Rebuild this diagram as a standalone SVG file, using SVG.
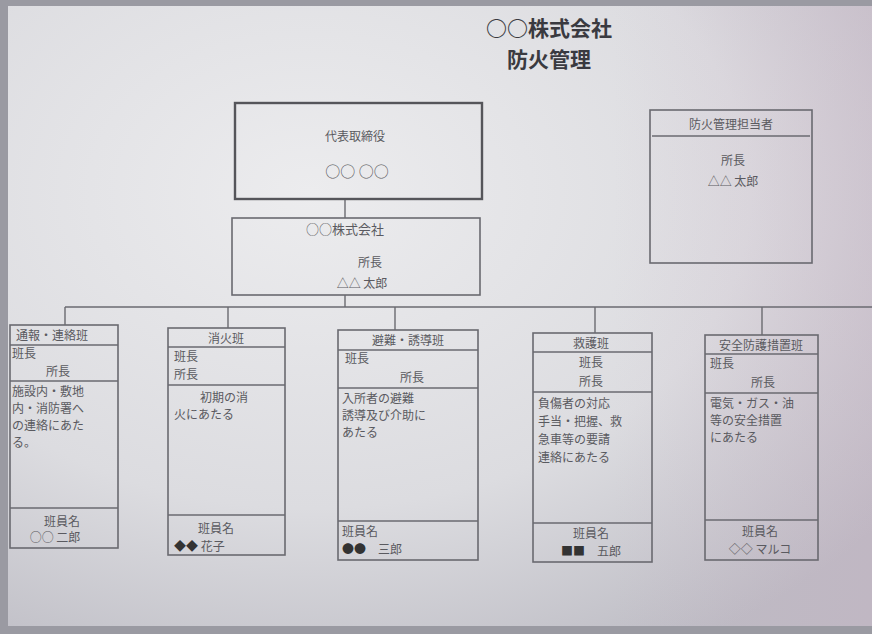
<svg xmlns="http://www.w3.org/2000/svg" width="872" height="634" viewBox="0 0 872 634">
<defs>
<radialGradient id="bg" cx="0.35" cy="0.3" r="0.85">
<stop offset="0" stop-color="#ececee"/>
<stop offset="0.6" stop-color="#dcdce0"/>
<stop offset="1" stop-color="#bdbcc4"/>
</radialGradient>
<linearGradient id="tint" x1="0" y1="0" x2="1" y2="0">
<stop offset="0.7" stop-color="#c9a8c0" stop-opacity="0"/>
<stop offset="1" stop-color="#c9a8c0" stop-opacity="0.25"/>
</linearGradient>
<style>
.box{fill:none;stroke:#6a6a70;stroke-width:1.6}
.top{fill:none;stroke:#55555a;stroke-width:2.4}
.ln{stroke:#6a6a70;stroke-width:1.4;fill:none}
text{font-family:"Noto Sans CJK JP","Noto Sans",sans-serif;fill:#5a5a60;font-size:12px}
.c{text-anchor:middle}
.title{font-size:21px;font-weight:bold;fill:#3a3a40}
.dark{fill:#333}
</style>
</defs>
<rect x="0" y="0" width="872" height="634" fill="#9a9aa2"/>
<rect x="8" y="6" width="864" height="620" fill="url(#bg)"/>
<rect x="8" y="6" width="864" height="620" fill="url(#tint)"/>
<g id="title">
<text class="title c" x="549" y="36">○○株式会社</text>
<text class="title c" x="549" y="67">防火管理</text>
</g>
<g id="connectors">
<line class="ln" x1="345" y1="199" x2="345" y2="218"/>
<line class="ln" x1="345" y1="295" x2="345" y2="307"/>
<line class="ln" x1="65" y1="307" x2="872" y2="307"/>
<line class="ln" x1="65" y1="307" x2="65" y2="325"/>
<line class="ln" x1="228" y1="307" x2="228" y2="328"/>
<line class="ln" x1="395" y1="307" x2="395" y2="330"/>
<line class="ln" x1="595" y1="307" x2="595" y2="333"/>
<line class="ln" x1="762" y1="307" x2="762" y2="335"/>
</g>
<g id="president">
<rect class="top" x="235" y="103" width="247" height="96" fill="#e4e4e8"/>
<text class="c" x="355" y="141">代表取締役</text>
<text class="c" x="357" y="177" style="font-size:15px">○○ ○○</text>
</g>
<g id="company">
<rect class="box" x="232" y="218" width="248" height="77"/>
<text class="c" x="345" y="234" style="font-size:13px">○○株式会社</text>
<text class="c" x="370" y="267">所長</text>
<text class="c" x="362" y="288">△△ 太郎</text>
</g>
<g id="fire-manager">
<rect class="box" x="650" y="110" width="162" height="153"/>
<line class="ln" x1="652" y1="136" x2="810" y2="136"/>
<text class="c" x="731" y="129">防火管理担当者</text>
<text class="c" x="733" y="165">所長</text>
<text class="c" x="733" y="186">△△ 太郎</text>
</g>
<g id="team1">
<rect class="box" x="10" y="325" width="108" height="223"/>
<line class="ln" x1="10" y1="345" x2="118" y2="345"/>
<line class="ln" x1="10" y1="381" x2="118" y2="381"/>
<line class="ln" x1="10" y1="508" x2="118" y2="508"/>
<text x="16" y="340">通報・連絡班</text>
<text x="12" y="358">班長</text>
<text class="c" x="58" y="376">所長</text>
<text x="12" y="396">施設内・敷地</text>
<text x="12" y="413">内・消防署へ</text>
<text x="12" y="430">の連絡にあた</text>
<text x="12" y="447">る。</text>
<text class="c" x="62" y="526">班員名</text>
<text class="c" x="55" y="542">○○ 二郎</text>
</g>
<g id="team2">
<rect class="box" x="168" y="328" width="117" height="227"/>
<line class="ln" x1="168" y1="347" x2="285" y2="347"/>
<line class="ln" x1="168" y1="385" x2="285" y2="385"/>
<line class="ln" x1="168" y1="515" x2="285" y2="515"/>
<text class="c" x="226" y="343">消火班</text>
<text x="174" y="361">班長</text>
<text x="174" y="379">所長</text>
<text x="200" y="402">初期の消</text>
<text x="174" y="419">火にあたる</text>
<text class="c" x="216" y="533">班員名</text>
<text x="174" y="551"><tspan class="dark">◆◆</tspan> 花子</text>
</g>
<g id="team3">
<rect class="box" x="338" y="330" width="140" height="230"/>
<line class="ln" x1="338" y1="350" x2="478" y2="350"/>
<line class="ln" x1="338" y1="388" x2="478" y2="388"/>
<line class="ln" x1="338" y1="521" x2="478" y2="521"/>
<text class="c" x="408" y="345">避難・誘導班</text>
<text x="345" y="363">班長</text>
<text class="c" x="412" y="382">所長</text>
<text x="342" y="403">入所者の避難</text>
<text x="342" y="420">誘導及び介助に</text>
<text x="342" y="437">あたる</text>
<text x="342" y="536">班員名</text>
<text x="342" y="554"><tspan class="dark">●●</tspan>　三郎</text>
</g>
<g id="team4">
<rect class="box" x="533" y="333" width="119" height="229"/>
<line class="ln" x1="533" y1="352" x2="652" y2="352"/>
<line class="ln" x1="533" y1="392" x2="652" y2="392"/>
<line class="ln" x1="533" y1="523" x2="652" y2="523"/>
<text class="c" x="591" y="348">救護班</text>
<text class="c" x="591" y="367">班長</text>
<text class="c" x="591" y="386">所長</text>
<text x="538" y="408">負傷者の対応</text>
<text x="538" y="426">手当・把握、救</text>
<text x="538" y="444">急車等の要請</text>
<text x="538" y="462">連絡にあたる</text>
<text class="c" x="591" y="538">班員名</text>
<text class="c" x="591" y="556"><tspan class="dark">■■</tspan>　五郎</text>
</g>
<g id="team5">
<rect class="box" x="705" y="335" width="113" height="225"/>
<line class="ln" x1="705" y1="354" x2="818" y2="354"/>
<line class="ln" x1="705" y1="393" x2="818" y2="393"/>
<line class="ln" x1="705" y1="520" x2="818" y2="520"/>
<text class="c" x="761" y="350">安全防護措置班</text>
<text x="710" y="368">班長</text>
<text class="c" x="763" y="387">所長</text>
<text x="710" y="408">電気・ガス・油</text>
<text x="710" y="425">等の安全措置</text>
<text x="710" y="442">にあたる</text>
<text class="c" x="760" y="536">班員名</text>
<text class="c" x="760" y="554">◇◇ マルコ</text>
</g>
</svg>
